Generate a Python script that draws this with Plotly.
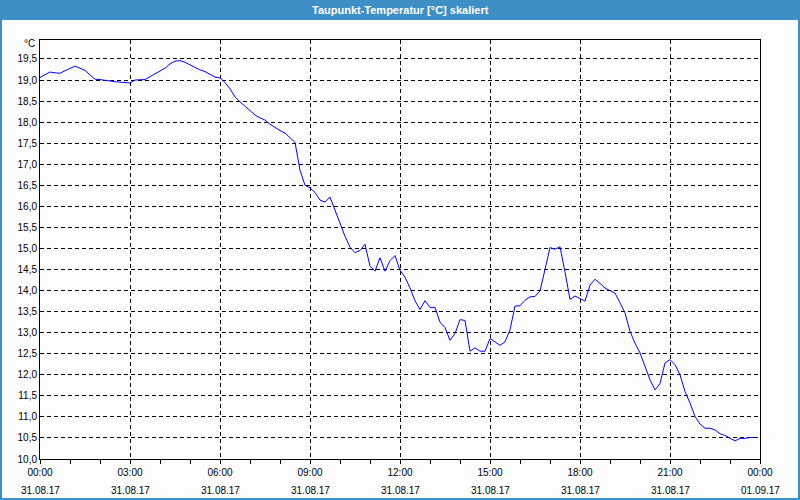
import plotly.graph_objects as go
import pandas as pd

title_text = "Taupunkt-Temperatur [°C] skaliert"
unit_label = "°C"
start_time = "2017-08-31 00:00"
step = "10min"

# dew point temperature, one value every 10 minutes (00:00 .. 23:50)
dewpoint = [
    19.06, 19.13, 19.19, 19.17, 19.16, 19.22, 19.28, 19.33, 19.28, 19.23, 19.12, 19.02,  # 00-01:50
    19.01, 18.99, 18.98, 18.96, 18.95, 18.94, 18.93, 19.00, 19.00, 19.01, 19.08, 19.14,  # 02-03:50
    19.20, 19.28, 19.38, 19.45, 19.46, 19.42, 19.36, 19.30, 19.24, 19.20, 19.14, 19.07,  # 04-05:50
    19.05, 18.94, 18.79, 18.60, 18.48, 18.38, 18.26, 18.17, 18.10, 18.05, 17.95, 17.87,  # 06-07:50
    17.80, 17.74, 17.62, 17.52, 16.86, 16.50, 16.44, 16.33, 16.15, 16.10, 16.22, 15.90,  # 08-09:50
    15.57, 15.29, 15.03, 14.90, 14.95, 15.10, 14.58, 14.46, 14.78, 14.46, 14.71, 14.83,  # 10-11:50
    14.48, 14.32, 14.06, 13.76, 13.55, 13.76, 13.60, 13.60, 13.25, 13.12, 12.82, 12.98,  # 12-13:50
    13.31, 13.29, 12.56, 12.64, 12.56, 12.56, 12.86, 12.78, 12.70, 12.78, 13.07, 13.63,  # 14-15:50
    13.64, 13.77, 13.85, 13.86, 13.99, 14.50, 15.02, 14.98, 15.04, 14.44, 13.79, 13.87,  # 16-17:50
    13.81, 13.75, 14.13, 14.27, 14.17, 14.06, 14.00, 13.94, 13.71, 13.47, 13.03, 12.75,  # 18-19:50
    12.52, 12.20, 11.88, 11.64, 11.79, 12.28, 12.36, 12.24, 12.00, 11.60, 11.33, 11.01,  # 20-21:50
    10.83, 10.73, 10.73, 10.69, 10.60, 10.56, 10.49, 10.43, 10.49, 10.49, 10.51, 10.51,  # 22-23:50
]

tick_times = ["2017-08-31 00:00", "2017-08-31 03:00", "2017-08-31 06:00",
              "2017-08-31 09:00", "2017-08-31 12:00", "2017-08-31 15:00",
              "2017-08-31 18:00", "2017-08-31 21:00", "2017-09-01 00:00"]
tick_hours = ["00:00", "03:00", "06:00", "09:00", "12:00", "15:00", "18:00", "21:00", "00:00"]
tick_dates = ["31.08.17", "31.08.17", "31.08.17", "31.08.17", "31.08.17",
              "31.08.17", "31.08.17", "31.08.17", "01.09.17"]

times = pd.date_range(start_time, periods=len(dewpoint), freq=step)

W, H = 800, 500
ML, MR, MT, MB = 40, 40, 40, 41
PW, PH = W - ML - MR, H - MT - MB
BLUE = "#3d8fc6"
FONT = "Liberation Sans"

def px_x(p):
    return (p - ML) / PW

def px_y(p):
    return 1 - (p - MT) / PH

fig = go.Figure()
fig.add_trace(go.Scatter(x=times, y=dewpoint, mode="lines",
                         line=dict(color="#0000ff", width=1), hoverinfo="skip"))

fig.update_layout(
    width=W, height=H,
    margin=dict(l=ML, r=MR, t=MT, b=MB),
    paper_bgcolor="#fcfdfc", plot_bgcolor="#fcfdfc",
    separators=",.",
    showlegend=False,
    font=dict(family=FONT, size=10, color="#000000"),
)

fig.update_xaxes(
    type="date",
    range=[tick_times[0], tick_times[-1]],
    tickvals=tick_times, ticktext=tick_hours,
    ticks="outside", ticklen=4, tickcolor="#000000", tickwidth=1,
    minor=dict(dtick=3600000, ticks="outside", ticklen=4, tickcolor="#000000", showgrid=False),
    showgrid=True, gridcolor="#000000", gridwidth=1, griddash="4px,3px",
    showline=True, linecolor="#000000", linewidth=1, mirror=True,
    zeroline=False, tickfont=dict(family=FONT, size=10),
)
fig.update_yaxes(
    range=[10, 19.95], tick0=10, dtick=0.5, tickformat=".1f",
    ticks="", showgrid=True, gridcolor="#000000", gridwidth=1, griddash="4px,3px",
    showline=True, linecolor="#000000", linewidth=1, mirror=True,
    zeroline=False, tickfont=dict(family=FONT, size=10),
)

shapes = [
    # title bar
    dict(type="rect", xref="paper", yref="paper", layer="above",
         x0=px_x(0), x1=px_x(W), y0=px_y(20), y1=px_y(0),
         fillcolor=BLUE, line=dict(width=0)),
    # outer frame
    dict(type="rect", xref="paper", yref="paper", layer="above",
         x0=px_x(1), x1=px_x(W - 1), y0=px_y(H - 1), y1=px_y(1),
         line=dict(color=BLUE, width=2)),
]
annotations = [
    dict(text="<b>" + title_text + "</b>", xref="paper", yref="paper", x=0.5, y=px_y(10),
         xanchor="center", yanchor="middle", showarrow=False,
         font=dict(family=FONT, size=11, color="#ffffff")),
    dict(text=unit_label, xref="paper", yref="paper", x=px_x(37), y=px_y(44),
         xanchor="right", yanchor="middle", showarrow=False,
         font=dict(family=FONT, size=10, color="#000000")),
]
for t, d in zip(tick_times, tick_dates):
    annotations.append(dict(text=d, xref="x", yref="paper", x=t, y=px_y(490),
                            xanchor="center", yanchor="middle", showarrow=False,
                            font=dict(family=FONT, size=10, color="#000000")))
fig.update_layout(shapes=shapes, annotations=annotations)

fig.write_html("out.html",
               config={"displayModeBar": False, "staticPlot": True},
               post_script="document.body.style.margin='0';document.body.style.overflow='hidden';")
